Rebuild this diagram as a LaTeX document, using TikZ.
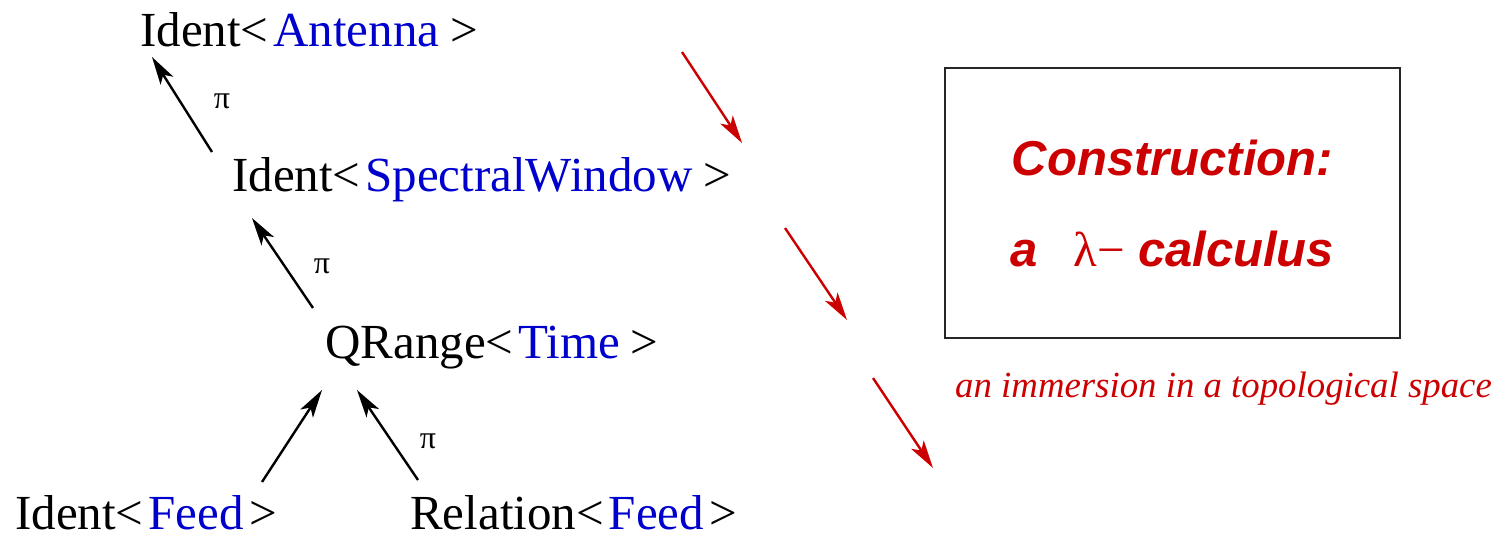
\documentclass[tikz,border=0pt]{standalone}
\usepackage{fontspec}
\setmainfont{Liberation Serif}
\newfontfamily\labelsans{Liberation Sans}
\usetikzlibrary{arrows.meta,calc}
\definecolor{typeblue}{RGB}{0,0,205}
\definecolor{conred}{RGB}{204,0,0}
\tikzset{
  term/.style={anchor=base west,inner sep=0pt,font=\fontsize{49}{55}\selectfont},
  proj/.style={inner sep=0pt,font=\fontsize{32}{36}\selectfont},
  uparrow/.style={line width=2.4pt,-{Stealth[length=28pt,width=15pt,inset=7pt]}},
  redarrow/.style={uparrow,draw=conred,fill=conred},
  caption/.style={anchor=base west,inner sep=0pt,text=conred,
    font=\fontsize{36.8}{40}\selectfont\itshape},
  conbox/.style={draw=black!85,line width=2pt,minimum width=455pt,minimum height=270pt,
    inner sep=0pt,align=center,text=conred,
    font=\labelsans\bfseries\itshape\fontsize{49}{91}\selectfont}
}
% type argument in blue, with the spacing of the angle brackets
\newcommand{\tp}[2][0.22em]{<\hspace{0.1em}\textcolor{typeblue}{#2}\hspace{#1}>}
\begin{document}
\begin{tikzpicture}[x=1pt,y=-1pt]
\useasboundingbox (0,0) rectangle (1499,537);

% type terms
\node[term] (ant) at (140,47) {Ident\tp{Antenna}};
\node[term] (spw) at (232,192) {Ident\tp{SpectralWindow}};
\node[term] (qr)  at (325,358) {QRange\tp{Time}};
\node[term] (idf) at (15,529) {Ident\tp[0.12em]{Feed}};
\node[term] (rel) at (410,529) {Relation\tp[0.12em]{Feed}};

% arrow end points
\coordinate (spw-out) at (212,152);
\coordinate (ant-in)  at (152,57);
\coordinate (qr-out)  at (313,308);
\coordinate (spw-in)  at (252,218);
\coordinate (idf-out) at (262,482);
\coordinate (qr-inl)  at (322,390);
\coordinate (rel-out) at (418,480);
\coordinate (qr-inr)  at (357,390);

\draw[uparrow] (spw-out) -- (ant-in);
\draw[uparrow] (qr-out) -- (spw-in);
\draw[uparrow] (idf-out) -- (qr-inl);
\draw[uparrow] (rel-out) -- (qr-inr);

\node[proj] (p1) at (222,101) {π};
\node[proj] (p2) at (322,266) {π};
\node[proj] (p3) at (428,441) {π};

% red arrows
\coordinate (r1a) at (682,52);  \coordinate (r1b) at (742,143);
\coordinate (r2a) at (785,228); \coordinate (r2b) at (847,320);
\coordinate (r3a) at (873,378); \coordinate (r3b) at (933,468);
\draw[redarrow] (r1a) -- (r1b);
\draw[redarrow] (r2a) -- (r2b);
\draw[redarrow] (r3a) -- (r3b);

% construction box
\node[conbox] (box) at (1172.5,203)
  {Construction:\\ a\hspace{0.72em}{\mdseries\upshape\rmfamily λ−}\hspace{0.27em}calculus};
\node[caption] (cap) at (955,397) {an immersion in a topological space};
\end{tikzpicture}
\end{document}
